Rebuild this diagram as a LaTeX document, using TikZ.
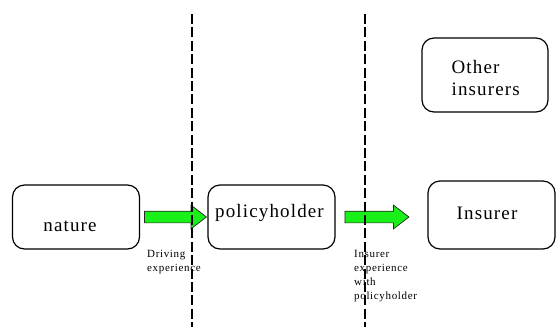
\documentclass[tikz,border=0pt]{standalone}
\usepackage{fontspec}
\setmainfont{Liberation Serif}[LetterSpace=6]
\usetikzlibrary{shapes.arrows,positioning}
\definecolor{Lime}{HTML}{19F019}

\begin{document}
\begin{tikzpicture}[x=1pt,y=-1pt]
  \tikzset{
    party/.style={
      draw,
      line width=1.2pt,
      rounded corners=12pt,
      minimum width=127pt,
      minimum height=64pt
    },
    partytext/.style={font=\fontsize{19}{22}\selectfont, inner sep=0pt},
    flowarrow/.style={
      single arrow,
      draw=black!85,
      line width=0.7pt,
      fill=Lime,
      inner xsep=0pt,
      inner ysep=5.5pt,
      minimum height=62pt,
      single arrow head extend=6pt,
      single arrow tip angle=75,
      single arrow head indent=0pt
    },
    flowlabel/.style={font=\fontsize{11}{14}\selectfont, align=left, anchor=north west, inner sep=0pt},
    divide/.style={line width=2pt, dash pattern=on 10pt off 3.4pt}
  }
  \useasboundingbox (0,0) rectangle (557,333);

  \node[party] (nature)       at (76,217) {};
  \node[party] (policyholder) at (271.5,217) {};
  \node[party, minimum height=68pt] (insurer) at (491.5,215) {};
  \node[party, minimum width=126pt, minimum height=74pt] (others) at (485,75) {};

  \node[partytext] at (nature.center) [xshift=-6pt, yshift=-9pt] {nature};
  \node[partytext] at (policyholder.center) [xshift=-2pt, yshift=4pt] {policyholder};
  \node[partytext] at (insurer.center) [xshift=-4.5pt, yshift=2pt] {Insurer};
  \node[partytext, anchor=west, align=left] at (others.west) [xshift=30pt, yshift=-3pt] {Other\\insurers};

  \node[flowarrow, right=4pt of nature] (drive) {};
  \node[flowarrow, minimum height=64pt, right=9pt of policyholder] (record) {};

  \node[flowlabel] at (147,250) {Driving\\experience};
  \node[flowlabel] at (354,250) {Insurer\\experience\\with\\policyholder};

  % dividing lines go on top
  \coordinate (cutAtop) at (192,14);
  \coordinate (cutAbot) at (192,327);
  \coordinate (cutBtop) at (365,14);
  \coordinate (cutBbot) at (365,327);
  \draw[divide] (cutAtop) -- (cutAbot);
  \draw[divide] (cutBtop) -- (cutBbot);
\end{tikzpicture}
\end{document}
